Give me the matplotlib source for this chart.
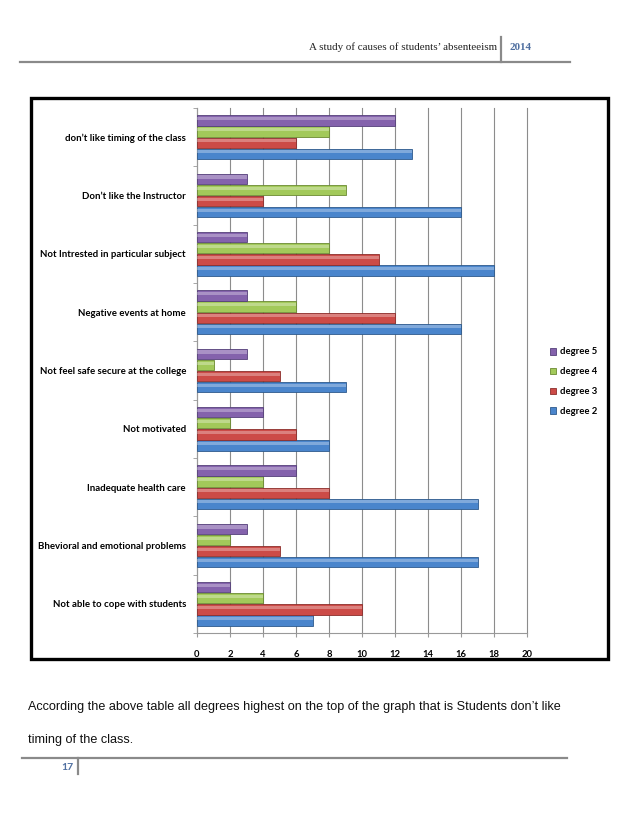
import matplotlib
matplotlib.use("Agg")
import matplotlib.pyplot as plt
from matplotlib.patches import Rectangle
from matplotlib.lines import Line2D
import numpy as np

categories = [
    "Not able to cope with students",
    "Bhevioral and emotional problems",
    "Inadequate health care",
    "Not motivated",
    "Not feel safe secure at the college",
    "Negative events at home",
    "Not Intrested in particular subject",
    "Don\u2019t like the Instructor",
    "don\u2019t like timing of the class",
]
degree2 = [7, 17, 17, 8, 9, 16, 18, 16, 13]
degree3 = [10, 5, 8, 6, 5, 12, 11, 4, 6]
degree4 = [4, 2, 4, 2, 1, 6, 8, 9, 8]
degree5 = [2, 3, 6, 4, 3, 3, 3, 3, 12]
series_names = ["degree 2", "degree 3", "degree 4", "degree 5"]
x_ticks = [0, 2, 4, 6, 8, 10, 12, 14, 16, 18, 20]

colors = ["#4A85CC", "#CC4B47", "#A2C95A", "#8462AC"]
edges = ["#2E5A8C", "#8C2E2B", "#6B8A32", "#55407A"]

W, H = 638, 826
fig = plt.figure(figsize=(W / 100, H / 100), dpi=100)

def fx(px):
    return px / W

def fy(py):
    return 1 - py / H

# Header
fig.text(fx(497), fy(47), "A study of causes of students\u2019 absenteeism",
         ha="right", va="center", fontsize=7.9, family="Liberation Serif", color="#222222")
fig.text(fx(510), fy(47), "2014", ha="left", va="center", fontsize=7.9,
         family="Liberation Serif", color="#4F6FA0", fontweight="bold")
fig.add_artist(Line2D([fx(20), fx(570)], [fy(62), fy(62)], color="#8a8a8a", lw=1.6))
fig.add_artist(Line2D([fx(501), fx(501)], [fy(37), fy(62)], color="#8a8a8a", lw=1.6))

# Chart frame
fig.add_artist(Rectangle((fx(31), fy(659)), fx(608) - fx(31), fy(98) - fy(659),
                         fill=False, edgecolor="black", lw=2.4, transform=fig.transFigure))

ax = fig.add_axes([fx(197), fy(633), fx(527) - fx(197), fy(108) - fy(633)])
y = np.arange(len(categories))
h = 0.19
all_series = [degree2, degree3, degree4, degree5]
handles = []
for i, (vals, c, e, name) in enumerate(zip(all_series, colors, edges, series_names)):
    off = (i - 1.5) * h
    b = ax.barh(y + off, vals, height=h * 0.93, color=c, edgecolor=e, linewidth=0.6,
                label=name, zorder=3)
    # highlight strip for a glossy look
    ax.barh(y + off + h * 0.17, vals, height=h * 0.28, color="white", alpha=0.3,
            linewidth=0, zorder=4)
    handles.append(b)

ax.set_xlim(0, 20)
ax.set_ylim(-0.5, len(categories) - 0.5)
ax.set_xticks(x_ticks)
ax.set_xticklabels([str(t) for t in x_ticks], fontsize=6.8, fontweight="bold", family="Lato")
ax.set_yticks(y)
ax.set_yticklabels(categories, fontsize=6.9, family="Lato", fontweight="bold")
ax.tick_params(axis="y", length=0, pad=8)
ax.tick_params(axis="x", length=3, color="#999999", pad=9)
ax.set_yticks(np.arange(-0.5, len(categories), 1), minor=True)
ax.tick_params(axis="y", which="minor", length=3, color="#999999")
ax.grid(axis="x", color="#8c8c8c", lw=0.8, zorder=0)
for gl in ax.get_xgridlines():
    gl.set_clip_on(False)
for s in ["top", "right"]:
    ax.spines[s].set_visible(False)
ax.spines["left"].set_color("#999999")
ax.spines["bottom"].set_color("#999999")
ax.spines["left"].set_linewidth(0.8)
ax.spines["bottom"].set_linewidth(0.8)

leg = fig.legend(handles[::-1], series_names[::-1], loc="upper left",
                 bbox_to_anchor=(fx(541), fy(339)), frameon=False,
                 prop={"family": "Lato", "weight": "bold", "size": 6.8},
                 handlelength=0.7, handleheight=0.7, handletextpad=0.4, labelspacing=1.15)

# Footer text
fig.text(fx(28), fy(707), "According the above table all degrees highest on the top of the graph that is Students don\u2019t like",
         ha="left", va="center", fontsize=9.1, family="Liberation Sans", color="#111111")
fig.text(fx(28), fy(740), "timing of the class.",
         ha="left", va="center", fontsize=9.1, family="Liberation Sans", color="#111111")
fig.add_artist(Line2D([fx(22), fx(567)], [fy(758), fy(758)], color="#8a8a8a", lw=1.6))
fig.add_artist(Line2D([fx(78), fx(78)], [fy(758), fy(774)], color="#8a8a8a", lw=1.6))
fig.text(fx(73), fy(768), "17", ha="right", va="center", fontsize=7.5,
         fontweight="bold", color="#4F6FA0", family="Lato")

fig.savefig("out.png", dpi=100)
